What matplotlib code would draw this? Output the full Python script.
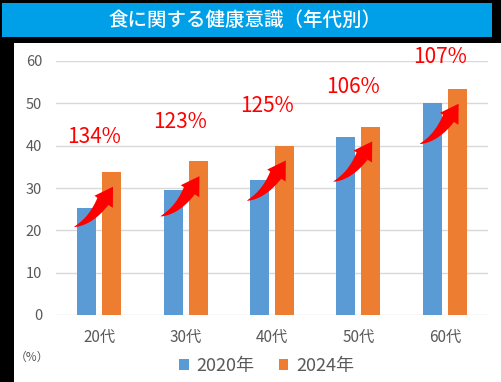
import numpy as np
import matplotlib
matplotlib.use("Agg")
import matplotlib.pyplot as plt
from matplotlib.patches import Rectangle, Polygon
from matplotlib.transforms import IdentityTransform

plt.rcParams["font.family"] = ["Noto Sans CJK JP", "DejaVu Sans"]

title = "食に関する健康意識（年代別）"
categories = ["20代", "30代", "40代", "50代", "60代"]
values_2020 = [25.3, 29.6, 32.0, 42.0, 50.0]
values_2024 = [33.8, 36.3, 40.0, 44.5, 53.4]
ratio_labels = ["134%", "123%", "125%", "106%", "107%"]
series_names = ["2020年", "2024年"]
unit_label = "（%）"

BLUE = "#5b9bd5"
ORANGE = "#ed7d31"
GRAY = "#595959"
GRID = "#d9d9d9"
RED = "#ff0000"


def swoosh(ax, tail, tip, body_w=6.5, head_w=11.0, head_len=18.0):
    # curved arrow drawn in pixel space, thin at the tail, wide at the head
    p0 = ax.transData.transform(tail)
    p2 = ax.transData.transform(tip)
    d = p2 - p0
    c = np.array([p0[0] + 0.6 * d[0], p0[1] + 0.15 * d[1]])
    t = np.linspace(0, 1, 200)[:, None]
    pts = (1 - t) ** 2 * p0 + 2 * (1 - t) * t * c + t ** 2 * p2
    dist = np.hypot(*(pts - p2).T)
    n_neck = np.argmax(dist < head_len)
    body = pts[: n_neck + 1]
    seg = np.diff(body, axis=0)
    seg = np.vstack([seg, seg[-1]])
    tang = seg / np.hypot(*seg.T)[:, None]
    norm = np.column_stack([-tang[:, 1], tang[:, 0]])
    s = np.concatenate([[0], np.cumsum(np.hypot(*np.diff(body, axis=0).T))])
    w = body_w * (s / s[-1]) ** 0.75
    left = body + norm * w[:, None] * 1.3
    right = body - norm * w[:, None] * 0.7
    neck = body[-1]
    nn = norm[-1]
    verts = np.vstack([left, neck + nn * head_w * 1.1, p2, neck - nn * head_w * 0.9, right[::-1]])
    fig = ax.figure
    fig.add_artist(Polygon(verts, closed=True, transform=IdentityTransform(),
                           facecolor=RED, edgecolor="none", zorder=10))


fig = plt.figure(figsize=(5.02, 3.82), dpi=100, facecolor="black")
fig.add_artist(Rectangle((14 / 502, 0), 1, (382 - 43) / 382, transform=fig.transFigure,
                         facecolor="white", edgecolor="none", zorder=0))
fig.add_artist(Rectangle((2 / 502, (382 - 37) / 382), 490 / 502, 34 / 382,
                         transform=fig.transFigure, facecolor="#00a0e9",
                         edgecolor="none", zorder=0))
fig.text(245 / 502, (382 - 20) / 382, title, color="white", fontsize=14,
         fontweight="medium", ha="center", va="center")

ax = fig.add_axes([56 / 502, (382 - 315) / 382, 432 / 502, 254 / 382])
ax.set_facecolor("none")
x = np.arange(len(categories))
bw = 0.22
ax.bar(x - 0.145, values_2020, bw, color=BLUE, label=series_names[0], zorder=3)
ax.bar(x + 0.145, values_2024, bw, color=ORANGE, label=series_names[1], zorder=3)

ax.set_xlim(-0.5, len(categories) - 0.5)
ax.set_ylim(0, 60)
ax.set_yticks(np.arange(0, 61, 10))
ax.yaxis.grid(True, color=GRID, linewidth=1, zorder=0)
ax.set_axisbelow(True)
for sp in ax.spines.values():
    sp.set_visible(False)
ax.tick_params(axis="both", length=0, colors=GRAY)
ax.tick_params(axis="y", labelsize=10.5, pad=10)
ax.tick_params(axis="x", labelsize=11, pad=10)
ax.set_xticks(x)
ax.set_xticklabels(categories)

# hand-placed label heights above the 2024 bar
label_lift = [6.8, 7.8, 8.0, 7.9, 6.1]
for i, lab in enumerate(ratio_labels):
    ax.text(x[i] - 0.06, values_2024[i] + label_lift[i], lab, color=RED, fontsize=15,
            ha="center", va="baseline", clip_on=False)

fig.canvas.draw()
for i in range(len(categories)):
    tip = (x[i] + 0.16, values_2024[i] - 3.5)
    tail = (x[i] - 0.29, values_2024[i] - 13.0)
    swoosh(ax, tail, tip)

fig.text(32 / 502, (382 - 357) / 382, unit_label, color=GRAY, fontsize=8.5,
         ha="center", va="center")
fig.legend(loc="center", bbox_to_anchor=(267 / 502, (382 - 366) / 382), ncol=2,
           frameon=False, fontsize=13, handlelength=0.5, handleheight=0.5,
           handletextpad=0.45, columnspacing=1.37, labelcolor=GRAY)

fig.savefig("out.png", dpi=100, facecolor="black")
